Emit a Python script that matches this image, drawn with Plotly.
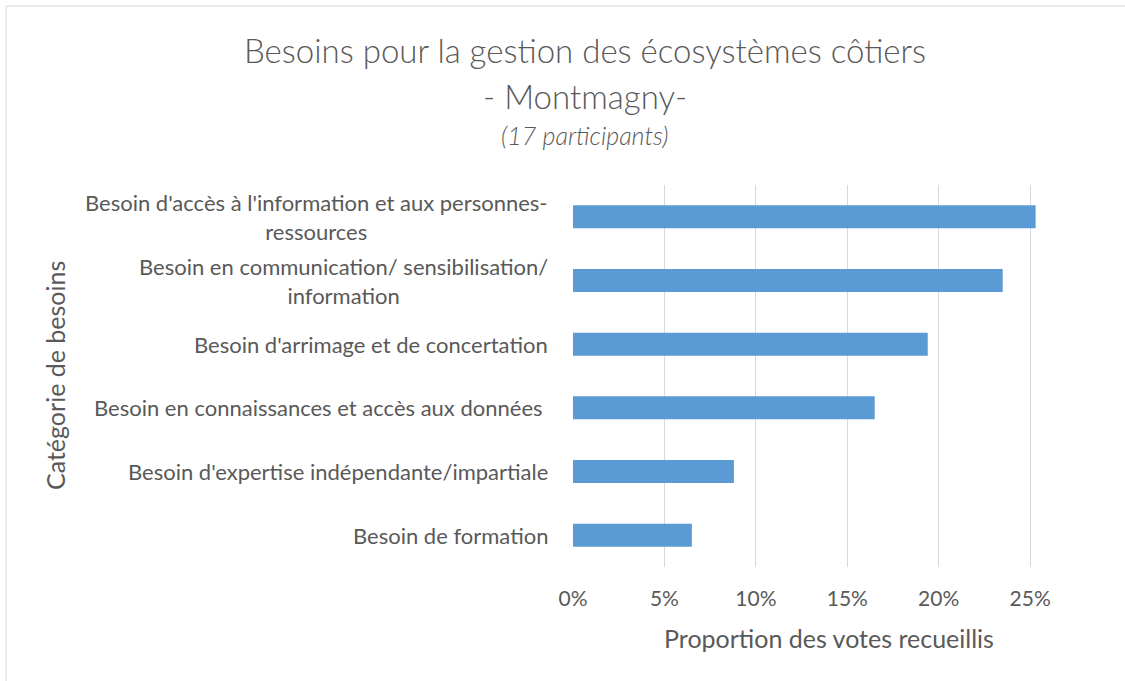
import plotly.graph_objects as go

# data
categories = [
    "Besoin d'accès à l'information et aux personnes-<br>ressources",
    "Besoin en communication/ sensibilisation/<br>information",
    "Besoin d'arrimage et de concertation",
    "Besoin en connaissances et accès aux données ",
    "Besoin d'expertise indépendante/impartiale",
    "Besoin de formation",
]
proportions = [0.253, 0.235, 0.194, 0.165, 0.088, 0.065]
tick_vals = [0, 0.05, 0.10, 0.15, 0.20, 0.25]
tick_text = ["0%", "5%", "10%", "15%", "20%", "25%"]
title_lines = [
    "Besoins pour la gestion des écosystèmes côtiers",
    "- Montmagny-",
    "<i>(17 participants)</i>",
]

FONT = "Lato"
GREY = "#595959"

W, H = 1125, 681
L, T = 573, 185
R = W - 1085
B = H - 567


def py_to_paper(py):
    return (H - B - py) / (H - T - B)


def px_to_paper(px):
    return (px - L) / (W - L - R)


fig = go.Figure()
fig.add_trace(go.Bar(
    x=proportions,
    y=categories,
    orientation="h",
    marker=dict(color="#5b9bd5", line=dict(width=0)),
    width=0.36,
    hoverinfo="x+y",
))

# category labels as annotations so wrapped lines are centred like Excel
for cat in categories:
    fig.add_annotation(
        x=0, xref="paper", y=cat, yref="y",
        text=cat, showarrow=False,
        xanchor="right", align="center", xshift=-23,
        font=dict(family=FONT, size=22, color=GREY),
    )

# title, three lines
for text, py, size in zip(title_lines, [50, 96, 135], [33, 33, 25]):
    fig.add_annotation(
        x=px_to_paper(585), xref="paper", y=py_to_paper(py), yref="paper",
        text=text, showarrow=False, xanchor="center", yanchor="middle",
        font=dict(family=FONT, size=size, color=GREY, weight=300),
    )

# y axis title
fig.add_annotation(
    x=px_to_paper(55), xref="paper", y=py_to_paper(376), yref="paper",
    text="Catégorie de besoins", textangle=-90, showarrow=False,
    xanchor="center", yanchor="middle",
    font=dict(family=FONT, size=25, color=GREY),
)

# chart border
fig.add_shape(
    type="rect", xref="paper", yref="paper",
    x0=px_to_paper(6), x1=px_to_paper(1140),
    y0=py_to_paper(700), y1=py_to_paper(6),
    line=dict(color="#d9d9d9", width=1), layer="below",
)

fig.update_layout(
    width=W, height=H,
    margin=dict(l=L, r=R, t=T, b=B),
    paper_bgcolor="white", plot_bgcolor="white",
    showlegend=False,
    font=dict(family=FONT, color=GREY),
    xaxis=dict(
        range=[0, 0.28],
        tickvals=tick_vals, ticktext=tick_text,
        tickfont=dict(family=FONT, size=21, color=GREY),
        showgrid=True, gridcolor="#d9d9d9", gridwidth=1,
        zeroline=False, showline=False, ticks="",
        ticklabelstandoff=17,
        title=dict(text="Proportion des votes recueillis", standoff=21,
                   font=dict(family=FONT, size=25, color=GREY)),
    ),
    yaxis=dict(
        autorange="reversed",
        showticklabels=False, showgrid=False, zeroline=False,
        showline=False, ticks="",
    ),
)

# drop the default body margin so the figure sits at the page corner
fig.write_html(
    "out.html",
    config={"displayModeBar": False},
    post_script="document.body.style.margin='0';",
)
